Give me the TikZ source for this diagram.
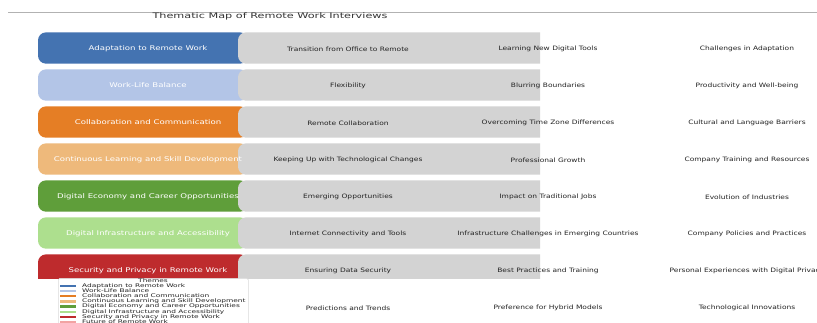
\documentclass[tikz,border=0pt]{standalone}
\usepackage{fontspec}
\setmainfont{DejaVu Sans}
\usepackage{graphicx}
\definecolor{c1}{HTML}{4473B1}
\definecolor{c2}{HTML}{B3C5E7}
\definecolor{c3}{HTML}{E57E25}
\definecolor{c4}{HTML}{EEB97B}
\definecolor{c5}{HTML}{5F9E3A}
\definecolor{c6}{HTML}{ADDF8E}
\definecolor{c7}{HTML}{BE2B2D}
\definecolor{c8}{HTML}{F2A3A3}
\definecolor{boxgray}{HTML}{D3D3D3}
\definecolor{txtdark}{HTML}{222222}
\newcommand\ttltext[1]{\scalebox{1.48}[1]{\fontsize{7.6}{8}\selectfont #1}}
\newcommand\boxtext[1]{\scalebox{1.32}[1]{\fontsize{6.5}{7}\selectfont #1}}
\newcommand\subtextfmt[1]{\scalebox{1.25}[1]{\fontsize{6}{7}\selectfont #1}}
\newcommand\legtext[1]{\scalebox{1.49}[1]{\fontsize{5}{5.5}\selectfont #1}}
\begin{document}
\begin{tikzpicture}[x=1pt,y=-1pt,
  themebox/.style={rectangle, rounded corners=8pt, minimum width=210pt, minimum height=31.3pt, inner sep=0pt},
  subbox/.style={rectangle, rounded corners=8pt, fill=boxgray, minimum width=322pt, minimum height=31.3pt, inner sep=0pt},
  themetext/.style={text=white, inner sep=0pt},
  subtext/.style={text=txtdark, inner sep=0pt},
  legentry/.style={text=txtdark, inner sep=0pt, anchor=west},
  legframe/.style={draw=black!15, fill=white, line width=0.5pt, rounded corners=1.5pt, minimum width=190pt, minimum height=60pt, inner sep=0pt, anchor=north west}]
\clip (0,0) rectangle (817,322);
\fill[white] (0,0) rectangle (817,322);
\coordinate (lineL) at (8,12.3);
\coordinate (lineR) at (817,12.3);
\draw[black!30, line width=0.8pt] (lineL) -- (lineR);
\node[text=black!80, inner sep=0pt] (title) at (270,16) {\ttltext{Thematic Map of Remote Work Interviews}};
\begin{scope}
\clip (0,20) rectangle (540,278);
\foreach \i/\c in {1/c1,2/c2,3/c3,4/c4,5/c5,6/c6,7/c7}{
  \node[themebox, fill=\c] (th\i) at (143,{48+37*(\i-1)}) {};
  \node[subbox] (sb\i) at (399,{48+37*(\i-1)}) {};
}
\end{scope}
\foreach \i/\t/\a/\b/\d in {
 1/Adaptation to Remote Work/Transition from Office to Remote/Learning New Digital Tools/Challenges in Adaptation,
 2/Work-Life Balance/Flexibility/Blurring Boundaries/Productivity and Well-being,
 3/Collaboration and Communication/Remote Collaboration/Overcoming Time Zone Differences/Cultural and Language Barriers,
 4/Continuous Learning and Skill Development/Keeping Up with Technological Changes/Professional Growth/Company Training and Resources,
 5/Digital Economy and Career Opportunities/Emerging Opportunities/Impact on Traditional Jobs/Evolution of Industries,
 6/Digital Infrastructure and Accessibility/Internet Connectivity and Tools/Infrastructure Challenges in Emerging Countries/Company Policies and Practices,
 7/Security and Privacy in Remote Work/Ensuring Data Security/Best Practices and Training/Personal Experiences with Digital Privacy}{
  \node[themetext] (tt\i) at (148,{48.3+37*(\i-1)}) {\boxtext{\t}};
  \node[subtext] (sa\i) at (348,{49+37*(\i-1)}) {\subtextfmt{\a}};
  \node[subtext] (sbt\i) at (548,{49+37*(\i-1)}) {\subtextfmt{\b}};
  \node[subtext] (sc\i) at (747,{49+37*(\i-1)}) {\subtextfmt{\d}};
}
\node[subtext] (sa8) at (348,308) {\subtextfmt{Predictions and Trends}};
\node[subtext] (sbt8) at (548,308) {\subtextfmt{Preference for Hybrid Models}};
\node[subtext] (sc8) at (747,308) {\subtextfmt{Technological Innovations}};
% legend
\node[legframe] (legend) at (58,278) {};
\node[text=txtdark, inner sep=0pt] (legtitle) at (153,281) {\legtext{Themes}};
\foreach \i/\c/\t in {1/c1/Adaptation to Remote Work,2/c2/Work-Life Balance,3/c3/Collaboration and Communication,4/c4/Continuous Learning and Skill Development,5/c5/Digital Economy and Career Opportunities,6/c6/Digital Infrastructure and Accessibility,7/c7/Security and Privacy in Remote Work,8/c8/Future of Remote Work}{
  \fill[\c] (60,{285.7+5.2*(\i-1)-1.2}) rectangle (76,{285.7+5.2*(\i-1)+1.2});
  \node[legentry] (le\i) at (82,{285.7+5.2*(\i-1)}) {\legtext{\t}};
}
\end{tikzpicture}
\end{document}
